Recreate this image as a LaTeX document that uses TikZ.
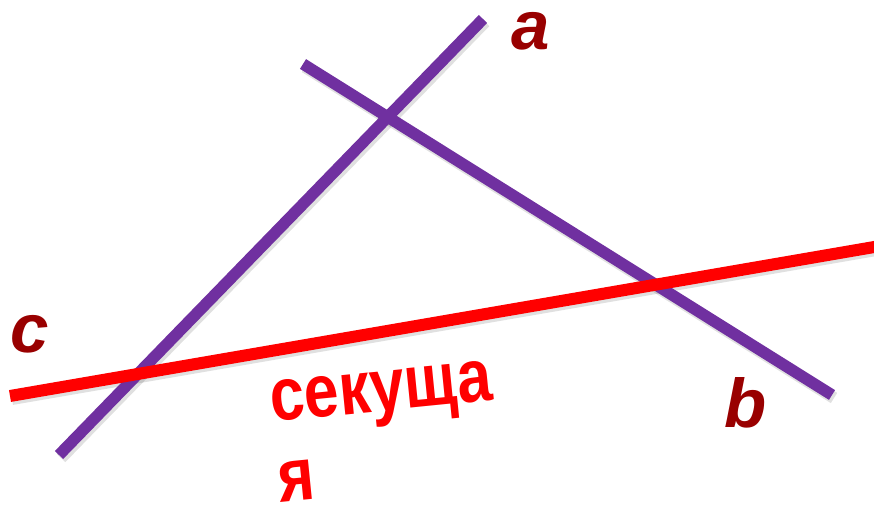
\documentclass[tikz,border=0pt]{standalone}
\usepackage{fontspec}
\setmainfont{Liberation Sans}
\begin{document}
\begin{tikzpicture}[x=1pt,y=-1pt,
  purp/.style={line width=11.5pt,draw={rgb,255:red,112;green,48;blue,160}},
  redl/.style={line width=12pt,draw=red},
  shad/.style={line width=12pt,draw=black,opacity=0.12},
  lbl/.style={text={rgb,255:red,153;green,0;blue,0},font=\fontsize{69}{69}\selectfont\bfseries\itshape,inner sep=0pt,anchor=base},
  sec/.style={text=red,font=\fontsize{75}{75}\selectfont\bfseries,inner sep=0pt,rotate=5.7,xscale=0.83}]
\useasboundingbox (0,0) rectangle (874,505);
\coordinate (a1) at (59,455);
\coordinate (a2) at (483,19);
\coordinate (b1) at (303,64);
\coordinate (b2) at (832,395);
\coordinate (c1) at (10,396);
\coordinate (c2) at (880,246);
% shadows
\draw[shad] ([shift={(2,3)}]a1) -- ([shift={(2,3)}]a2);
\draw[shad] ([shift={(2,3)}]b1) -- ([shift={(2,3)}]b2);
\draw[shad] ([shift={(2,3)}]c1) -- ([shift={(2,3)}]c2);
% lines
\draw[purp] (a1) -- (a2);
\draw[purp] (b1) -- (b2);
\draw[redl] (c1) -- (c2);
% labels
\node[lbl] (la) at (531,50) {a};
\node[lbl] (lb) at (746,427) {b};
\node[lbl] (lc) at (30,352) {c};
\node[sec,anchor=base west] (s1) at (272,422) {секуща};
\node[sec,anchor=base] (s2) at (299,501) {я};
\end{tikzpicture}
\end{document}
